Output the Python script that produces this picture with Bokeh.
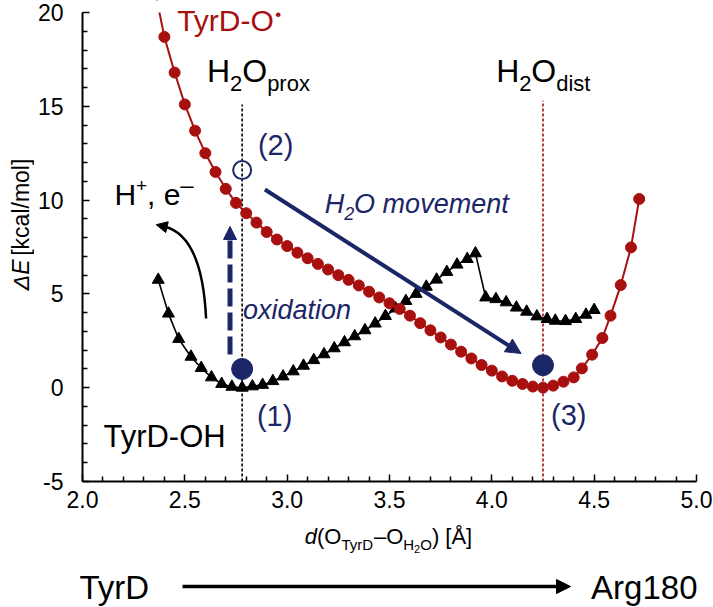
import math
from bokeh.plotting import figure
from bokeh.layouts import column, row
from bokeh.models import Range1d, FixedTicker, Label, Arrow, NormalHead
from bokeh.embed import file_html
from bokeh.resources import INLINE

# ---------------- data ----------------
# TyrD-O• (oxidized) energy profile, kcal/mol
red_x = [2.35, 2.40, 2.45, 2.50, 2.55, 2.60, 2.65, 2.70, 2.75, 2.80, 2.85, 2.90, 2.95,
         3.00, 3.05, 3.10, 3.15, 3.20, 3.25, 3.30, 3.35, 3.40, 3.45, 3.50, 3.55, 3.60,
         3.65, 3.70, 3.75, 3.80, 3.85, 3.90, 3.95, 4.00, 4.05, 4.10, 4.15, 4.20, 4.25,
         4.30, 4.35, 4.40, 4.44, 4.49, 4.54, 4.58, 4.63, 4.68, 4.72]
red_y = [21.4, 18.7, 16.8, 15.1, 13.7, 12.5, 11.5, 10.6, 9.85, 9.3, 8.8, 8.3, 7.9,
         7.55, 7.2, 6.9, 6.6, 6.3, 6.0, 5.75, 5.45, 5.12, 4.81, 4.5, 4.2, 3.84,
         3.44, 3.06, 2.68, 2.3, 1.92, 1.56, 1.21, 0.91, 0.6, 0.37, 0.2, 0.06, 0.0,
         0.11, 0.32, 0.55, 1.03, 1.76, 2.65, 3.84, 5.47, 7.48, 10.06]
# TyrD-OH (reduced) energy profile
black_x = [2.37, 2.42, 2.47, 2.53, 2.58, 2.63, 2.68, 2.73, 2.78, 2.83, 2.88, 2.93, 2.98,
           3.03, 3.08, 3.13, 3.18, 3.23, 3.28, 3.33, 3.38, 3.43, 3.48, 3.53, 3.58, 3.63,
           3.68, 3.73, 3.78, 3.83, 3.88, 3.92, 3.97, 4.02, 4.07, 4.12, 4.17, 4.22, 4.27,
           4.31, 4.36, 4.41, 4.46, 4.50]
black_y = [5.75, 3.95, 2.6, 1.65, 1.05, 0.55, 0.2, 0.05, 0.0, 0.07, 0.15, 0.35, 0.6,
           0.87, 1.17, 1.47, 1.78, 2.1, 2.42, 2.74, 3.06, 3.42, 3.82, 4.22, 4.62, 5.0,
           5.38, 5.76, 6.17, 6.56, 6.86, 7.16, 4.81, 4.72, 4.55, 4.27, 4.05, 3.8, 3.66,
           3.57, 3.55, 3.66, 3.89, 4.14]
# states (1), (3) filled; (2) open
state_x = [2.78, 4.25]
state_y = [1.0, 1.2]
open_x = [2.78]
open_y = [11.6]
# reference distances (H2O prox / dist)
vline_x = [2.78, 4.25]
vline_top = [15.1, 15.3]

x_ticks = [2.0, 2.5, 3.0, 3.5, 4.0, 4.5, 5.0]
x_tick_labels = ["2.0", "2.5", "3.0", "3.5", "4.0", "4.5", "5.0"]
x_minor = [2.1, 2.2, 2.3, 2.4, 2.6, 2.7, 2.8, 2.9, 3.1, 3.2, 3.3, 3.4, 3.6, 3.7, 3.8, 3.9,
           4.1, 4.2, 4.3, 4.4, 4.6, 4.7, 4.8, 4.9]
y_ticks = [-5, 0, 5, 10, 15, 20]
y_tick_labels = ["-5", "0", "5", "10", "15", "20"]
y_minor = [-4, -3, -2, -1, 1, 2, 3, 4, 6, 7, 8, 9, 11, 12, 13, 14, 16, 17, 18, 19]

# ---------------- style / layout ----------------
RED = "#a81010"
NAVY = "#1b2667"
FONT = "Liberation Sans"
BASE_FIX = 0.33    # label anchor -> alphabetic baseline correction (em)

PW, PH = 713, 607
LW = 34            # width of left strip (y title)
HM = 518           # height of main row
HB = PH - HM       # bottom strip
FL, FT, FR, FB = 80, 12, 696, 481   # frame (page px): x=2..5, y=20..-5
X0, X1, Y0, Y1 = 2.0, 5.0, -5.0, 20.0
YTOP = Y0 + FB * (Y1 - Y0) / (FB - FT)   # value at page y = 0


def dx(px):
    return X0 + (px - FL) * (X1 - X0) / (FR - FL)


def dy(py):
    return Y1 - (py - FT) * (Y1 - Y0) / (FB - FT)


def blank(w, h):
    f = figure(width=w, height=h, x_range=Range1d(0, w), y_range=Range1d(0, h),
               output_backend="svg", toolbar_location=None,
               x_axis_location=None, y_axis_location=None, min_border=0)
    f.outline_line_color = None
    f.xgrid.visible = False
    f.ygrid.visible = False
    return f


p = figure(width=PW - LW, height=HM, x_range=Range1d(X0, X1), y_range=Range1d(Y0, YTOP),
           output_backend="svg", toolbar_location=None,
           min_border_left=FL - LW, min_border_right=PW - FR,
           min_border_top=0, min_border_bottom=HM - FB)
p.outline_line_color = None
p.xgrid.visible = False
p.ygrid.visible = False

for ax in (p.xaxis[0], p.yaxis[0]):
    ax.axis_line_width = 2
    ax.axis_line_color = "black"
    ax.major_tick_in = 7
    ax.major_tick_out = 0
    ax.minor_tick_in = 5
    ax.minor_tick_out = 0
    ax.major_tick_line_width = 1.5
    ax.minor_tick_line_width = 1.5
    ax.major_label_text_font = FONT
    ax.major_label_text_font_size = "23px"
    ax.major_label_text_color = "black"

p.xaxis.ticker = FixedTicker(ticks=x_ticks, minor_ticks=x_minor)
p.yaxis.ticker = FixedTicker(ticks=y_ticks, minor_ticks=y_minor)
p.yaxis.bounds = (Y0, Y1)
p.xaxis.major_label_overrides = {t: l for t, l in zip(x_ticks, x_tick_labels)}
p.yaxis.major_label_overrides = {t: l for t, l in zip(y_ticks, y_tick_labels)}
p.xaxis.major_label_standoff = 9
p.yaxis.major_label_standoff = 19

# reference vertical dotted lines
p.segment(x0=vline_x[:1], y0=[Y0], x1=vline_x[:1], y1=vline_top[:1],
          line_color="black", line_width=1.6, line_dash="3 2")
p.segment(x0=vline_x[1:], y0=[Y0], x1=vline_x[1:], y1=vline_top[1:],
          line_color=RED, line_width=1.6, line_dash="3 2")

# curves
p.line(black_x, black_y, line_color="black", line_width=1.6)
p.scatter(black_x, black_y, marker="triangle", size=12, fill_color="black", line_color="black")
p.line(red_x, red_y, line_color=RED, line_width=2)
p.scatter(red_x, red_y, marker="circle", size=11, fill_color=RED, line_color=RED)
# keep the area above the top tick empty (as in the original plot area)
p.quad(left=[X0], right=[X1], bottom=[Y1], top=[YTOP], fill_color="white", line_color=None)

# state markers
p.scatter(state_x, state_y, marker="circle", size=21, fill_color=NAVY, line_color=NAVY)
p.scatter(open_x, open_y, marker="circle", size=18, fill_color=None, line_color=NAVY, line_width=2)

# arrows
p.add_layout(Arrow(end=NormalHead(size=15, fill_color=NAVY, line_color=NAVY),
                   x_start=dx(263), y_start=dy(189), x_end=dx(520), y_end=dy(353),
                   line_color=NAVY, line_width=4))
p.add_layout(Arrow(end=NormalHead(size=13, fill_color=NAVY, line_color=NAVY),
                   x_start=dx(228), y_start=dy(354), x_end=dx(228), y_end=dy(226),
                   line_color=NAVY, line_width=5, line_dash="18 6"))
p.quadratic(x0=[dx(204)], y0=[dy(318)], x1=[dx(162)], y1=[dy(226)],
            cx=[dx(200)], cy=[dy(235)], line_color="black", line_width=2.5)
p.add_layout(Arrow(end=NormalHead(size=11, fill_color="black", line_color="black"),
                   x_start=dx(164), y_start=dy(226.5), x_end=dx(154), y_end=dy(224.2),
                   line_color="black", line_width=2.5))

# ---------------- texts ----------------
WID = {'T': .611, 'y': .5, 'r': .333, 'D': .722, '-': .333, 'O': .778, 'H': .722, '2': .556,
       'p': .556, 'o': .556, 'x': .5, 'd': .556, 'i': .222, 's': .5, 't': .278, '(': .333,
       ')': .333, '1': .556, '3': .556, ' ': .278, '+': .584, 'e': .556, ',': .278, '–': .556,
       '[': .278, ']': .278, 'Å': .667, 'A': .667, 'g': .556, '8': .556, '0': .556, 'm': .833,
       'v': .5, 'n': .556, 'a': .556, 'k': .5, 'c': .5, 'l': .222, '/': .278, 'E': .667,
       'Δ': .668, '•': .35}


def tw(s, size):
    return sum(WID.get(c, .556) for c in s) * size


def total(pieces):
    return sum(tw(t, s) for t, s, _, _ in pieces)


def put(fig, mx, my, pieces, px, py, color="black", angle=0.0):
    """pieces: (text, size, baseline shift px, style); px/py = baseline start in page px"""
    pos = 0.0
    for text, size, shift, style in pieces:
        # leading blanks are collapsed by SVG: advance instead
        lead = len(text) - len(text.lstrip(" "))
        pos += lead * WID[' '] * size
        text = text.lstrip(" ")
        fix = BASE_FIX * size
        if angle == 0:
            x, y = mx(px + pos), my(py + shift - fix)
        else:
            x, y = mx(px + shift - fix), my(py - pos)
        fig.add_layout(Label(x=x, y=y, text=text, text_font=FONT, text_font_size=f"{size}px",
                             text_font_style=style, text_color=color, text_align="left",
                             text_baseline="alphabetic", angle=angle))
        pos += tw(text, size)


def main_put(pieces, px, py, color="black"):
    put(p, dx, dy, pieces, px, py, color)


main_put([("TyrD-O", 30, 0, "normal"), ("•", 17, -10, "normal")], 175, 30, RED)
main_put([("H", 32, 0, "normal"), ("2", 22, 9, "normal"), ("O", 32, 0, "normal"),
          ("prox", 22, 9, "normal")], 205, 81)
main_put([("H", 32, 0, "normal"), ("2", 22, 9, "normal"), ("O", 32, 0, "normal"),
          ("dist", 22, 9, "normal")], 495, 81)
main_put([("(2)", 29, 0, "normal")], 256, 154, NAVY)
main_put([("(1)", 29, 0, "normal")], 255, 425, NAVY)
main_put([("(3)", 29, 0, "normal")], 550, 424, NAVY)
main_put([("TyrD-OH", 31, 0, "normal")], 101, 446)
main_put([("H", 30, 0, "normal"), ("+", 19, -13, "normal"), (", e", 30, 0, "normal"),
          ("–", 24, -12, "normal")], 112, 204)
main_put([("H", 27, 0, "italic"), ("2", 18, 7, "italic"), ("O movement", 27, 0, "italic")],
         323, 212, NAVY)
main_put([("oxidation", 27, 0, "italic")], 241, 318, NAVY)

# left strip: y axis title (page coords -> strip coords)
pl = blank(LW, HM)
put(pl, lambda v: v, lambda v: HM - v,
    [("ΔE", 23, 0, "italic"), (" [kcal/mol]", 23, 0, "normal")], 28, 312, angle=math.pi / 2)

# bottom strip: x axis title and TyrD -> Arg180
pb = blank(PW, HB)
bx = lambda v: v
by = lambda v: HB - (v - HM)
xt = [("d", 22, 0, "italic"), ("(O", 22, 0, "normal"), ("TyrD", 15, 6, "normal"),
      ("–O", 22, 0, "normal"), ("H", 15, 6, "normal"), ("2", 11, 9, "normal"),
      ("O", 15, 6, "normal"), (") [Å]", 22, 0, "normal")]
put(pb, bx, by, xt, (FL + FR) / 2 - total(xt) / 2, 543)
put(pb, bx, by, [("TyrD", 33, 0, "normal")], 79, 598)
arg = [("Arg180", 33, 0, "normal")]
put(pb, bx, by, arg, FR + 1 - total(arg), 598)
pb.add_layout(Arrow(end=NormalHead(size=14, fill_color="black", line_color="black"),
                    x_start=bx(182), y_start=by(586), x_end=bx(570), y_end=by(586),
                    line_color="black", line_width=3.5))

layout = column(row(pl, p), pb)
open("out.html", "w").write(file_html(layout, INLINE))
